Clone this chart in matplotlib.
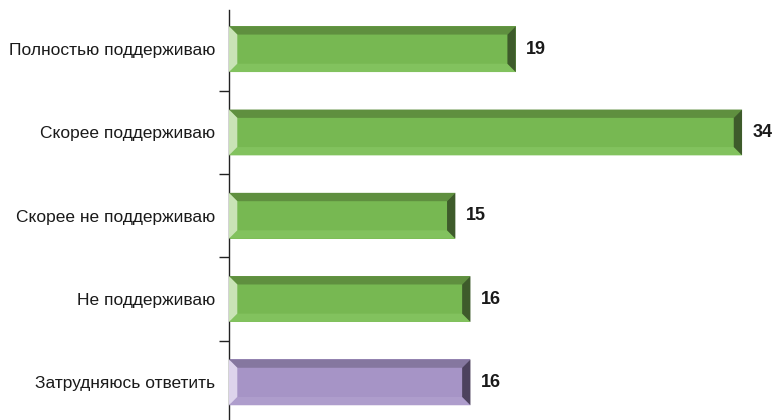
import matplotlib.pyplot as plt
from matplotlib.patches import Polygon

plt.rcParams['font.family'] = ['Liberation Sans', 'DejaVu Sans']

# data
categories = ["Полностью поддерживаю", "Скорее поддерживаю", "Скорее не поддерживаю",
              "Не поддерживаю", "Затрудняюсь ответить"]
values = [19, 34, 15, 16, 16]
groups = ["green", "green", "green", "green", "purple"]

# bevel colours: face, top, bottom, left, right
palette = {
    "green": ("#77b852", "#5f8f3f", "#82c25e", "#c9e3b6", "#3e5b2b"),
    "purple": ("#a694c6", "#85779f", "#ae9dcc", "#ddd4ec", "#4d425e"),
}

fig = plt.figure(figsize=(7.8, 4.2), dpi=100)
ax = fig.add_axes([229 / 780, 0, 1 - 229 / 780, 410 / 420])

H = 0.55        # bar height
bx = 0.55       # bevel width in x units
by = 0.1        # bevel width in y units

for i, (v, g) in enumerate(zip(values, groups)):
    face, top, bot, left, right = palette[g]
    y0, y1 = i - H / 2, i + H / 2   # y0 is visually top (axis inverted)
    ax.barh(i, v, height=H, color=face, zorder=2)
    ax.add_patch(Polygon([(0, y0), (v, y0), (v - bx, y0 + by), (bx, y0 + by)], color=top, lw=0, zorder=3))
    ax.add_patch(Polygon([(0, y1), (v, y1), (v - bx, y1 - by), (bx, y1 - by)], color=bot, lw=0, zorder=3))
    ax.add_patch(Polygon([(0, y0), (bx, y0 + by), (bx, y1 - by), (0, y1)], color=left, lw=0, zorder=3))
    ax.add_patch(Polygon([(v, y0), (v - bx, y0 + by), (v - bx, y1 - by), (v, y1)], color=right, lw=0, zorder=3))
    ax.text(v + 0.7, i, str(v), va="center", ha="left", fontsize=13, fontweight="bold",
            color="#1a1a1a")

ax.set_xlim(0, 551 / 15.09)
ax.set_ylim(-0.47 + 410 / 83.3, -0.47)

ax.set_yticks(range(len(categories)))
ax.set_yticklabels(categories, fontsize=12.5, color="#1a1a1a")
ax.tick_params(axis="y", which="major", length=0, pad=10)
ax.set_yticks([0.5, 1.5, 2.5, 3.5], minor=True)
ax.tick_params(axis="y", which="minor", length=7, width=1, direction="out", color="#222222")
ax.set_xticks([])

for s in ["top", "right", "bottom"]:
    ax.spines[s].set_visible(False)
ax.spines["left"].set_color("#222222")
ax.spines["left"].set_linewidth(1)

fig.savefig("out.png", dpi=100)
